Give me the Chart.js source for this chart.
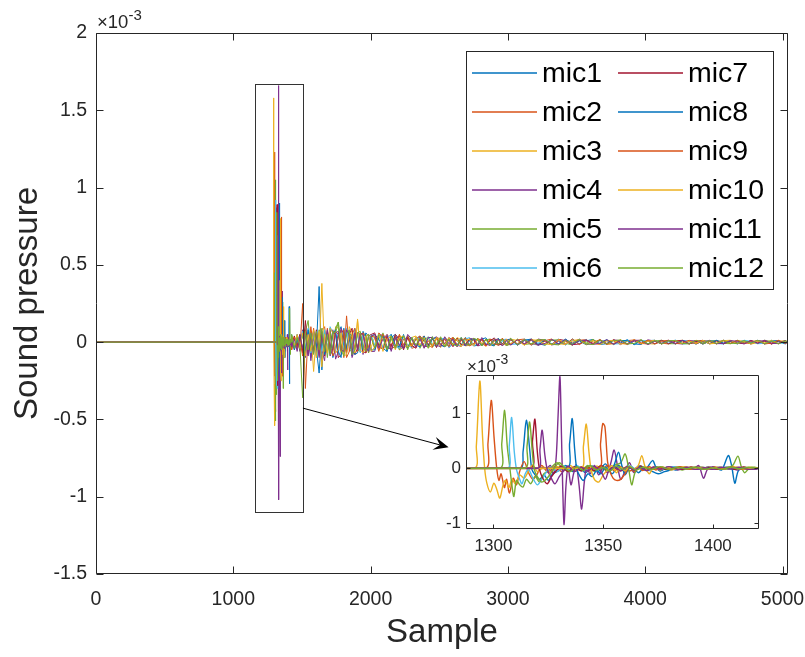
<!DOCTYPE html>
<html>
<head>
<meta charset="utf-8">
<script src="https://cdn.jsdelivr.net/npm/chart.js@4.4.1/dist/chart.umd.min.js"></script>
<style>
    html, body { margin: 0; padding: 0; background: #fff; }
    #wrap { position: relative; width: 805px; height: 657px; }
    #main { position: absolute; left: 0; top: 0; }
    #inset { position: absolute; left: 420px; top: 350px; }
</style>
</head>
<body>
<div id="wrap">
    <canvas id="main" width="805" height="657"></canvas>
    <canvas id="inset" width="370" height="220"></canvas>
</div>
<script>
// sound pressure in units of 1e-3
const micNames = ['mic1', 'mic2', 'mic3', 'mic4', 'mic5', 'mic6', 'mic7', 'mic8', 'mic9', 'mic10', 'mic11', 'mic12'];
const micColors = ['#0072BD', '#D95319', '#EDB120', '#7E2F8E', '#77AC30', '#4DBEEE', '#A2142F', '#0072BD', '#D95319', '#EDB120', '#7E2F8E', '#77AC30'];

const xTicks = [0, 1000, 2000, 3000, 4000, 5000];
const yTicks = [-1.5, -1, -0.5, 0, 0.5, 1, 1.5, 2];
const insetXTicks = [1300, 1350, 1400];
const insetYTicks = [-1, 0, 1];

// arrival of the direct pulse, [sample, value] pairs
const burst1 = [[0,0],[1312,0],[1313.5,0.3],[1315,0.87],[1316.5,0.35],[1317.5,-0.02],[1319,-0.12],[1321,-0.2],[1323,-0.12],[1325,-0.22],[1327,-0.1],[1330,-0.04],[1333,0.05],[1336,-0.06],[1339,0.02],[1342,-0.08],[1345,0.04],[1348,-0.05],[1351,0.08],[1354,-0.1],[1357,0.05],[1360,-0.06],[1363,0.03],[1366,-0.08],[1369,0.02],[1372,-0.05],[1375,-0.1],[1378,-0.06],[1381,-0.03],[1385,0.02],[1389,-0.02],[1393,0.03],[1397,-0.02],[1401,0.01],[1404,-0.03],[1407,0.23],[1408.5,0.05],[1410,-0.27],[1411.5,-0.05],[1414,0.02],[1417,-0.02],[1420,0.01]];
const burst2 = [[0,0],[1296,0],[1297.5,0.45],[1299,1.23],[1300.3,0.55],[1301.5,0],[1302.5,-0.22],[1303.5,-0.1],[1305,-0.35],[1306,-0.2],[1307.3,-0.45],[1309,-0.18],[1310.5,-0.3],[1312,-0.05],[1314,0.12],[1316,-0.08],[1318,-0.2],[1320,-0.1],[1322,0.05],[1325,-0.08],[1328,0.04],[1331,-0.06],[1334,0.02],[1337,-0.04],[1340,0.03],[1343,-0.05],[1346,0.02],[1349,-0.03],[1352,0.05],[1355,-0.04],[1358,0.03],[1362,-0.05],[1366,0.02],[1370,-0.03],[1374,0.02],[1378,-0.02],[1382,0.03],[1386,-0.01],[1390,0.02],[1394,-0.02],[1398,0.01],[1402,-0.02],[1406,0.02],[1410,-0.01],[1414,0.02],[1418,-0.02],[1421,0.01]];
const burst3 = [[0,0],[1291,0],[1292.2,0.4],[1293.8,1.58],[1295,0.6],[1296,0],[1297,-0.27],[1298.6,-0.43],[1300.2,-0.27],[1301.5,-0.38],[1302.9,-0.54],[1304.4,-0.3],[1305.5,-0.22],[1307,-0.35],[1308.5,-0.2],[1310,-0.28],[1312,-0.12],[1314,-0.18],[1316,-0.05],[1318,0.06],[1320,-0.06],[1323,0.02],[1326,-0.07],[1329,0.03],[1332,-0.02],[1335,0.05],[1338,-0.04],[1341,0.02],[1344,-0.05],[1347,0.04],[1350,-0.03],[1353,0.02],[1357,-0.04],[1361,0.03],[1365,-0.02],[1369,0.03],[1373,-0.02],[1377,0.02],[1381,-0.03],[1385,0.02],[1389,-0.01],[1393,0.03],[1397,-0.02],[1401,0.02],[1405,-0.02],[1409,0.03],[1413,-0.01],[1417,0.02],[1421,0]];
const burst4 = [[0,0],[1324,0],[1326,0.05],[1327.3,-0.1],[1328.5,0.15],[1329.4,0.9],[1330.3,1.66],[1331,0.6],[1331.6,-0.4],[1332.2,-1.02],[1333,-0.35],[1334,0.02],[1335.3,-0.3],[1336.5,-0.1],[1337.7,0.06],[1339,-0.3],[1340.2,-0.74],[1341.4,-0.25],[1342.5,0.03],[1344,-0.1],[1346,0.05],[1348,-0.12],[1350,0.02],[1352,-0.08],[1353.5,0.1],[1355,0.33],[1356.5,0.05],[1358,-0.2],[1360,-0.05],[1362,0.1],[1364,-0.08],[1367,0.04],[1370,-0.05],[1373,0.03],[1376,-0.04],[1380,0.02],[1384,-0.03],[1388,0.02],[1391,-0.02],[1393.5,0.05],[1395.7,-0.18],[1397.5,-0.02],[1400,0.03],[1403,-0.02],[1407,0.02],[1411,-0.03],[1415,0.01],[1419,-0.02],[1421,0]];
const burst5 = [[0,0],[1302.5,0],[1303.8,0.45],[1305.1,1.05],[1306.3,0.4],[1307.5,0],[1308.4,-0.3],[1309.3,-0.51],[1310.5,-0.22],[1312,-0.3],[1313.5,-0.34],[1315,-0.2],[1317,-0.28],[1319,-0.15],[1321,-0.25],[1323,-0.1],[1325,-0.05],[1327,0.04],[1329,0.1],[1331,0.02],[1334,-0.05],[1337,0.03],[1340,-0.04],[1343,0.05],[1346,-0.06],[1349,0.02],[1352,-0.04],[1355,0.05],[1358,0.1],[1360,0.26],[1361.5,0.02],[1363,-0.3],[1364.5,-0.08],[1367,0.04],[1370,-0.03],[1374,0.02],[1378,-0.02],[1382,0.02],[1386,-0.03],[1390,0.02],[1394,-0.01],[1398,0.02],[1402,-0.02],[1406,0.01],[1409,0.05],[1411.4,0.22],[1413,0.02],[1414.5,-0.08],[1416.5,0],[1419,0.02],[1421,0]];
const burst6 = [[0,0],[1306,0],[1307.2,0.4],[1308.3,0.92],[1309.5,0.3],[1310.5,-0.02],[1311.8,-0.18],[1313,-0.28],[1314.5,-0.1],[1316,-0.02],[1318,-0.18],[1320,-0.3],[1322,-0.2],[1324,-0.08],[1326,0.02],[1329,-0.06],[1332,0.04],[1335,-0.03],[1338,0.05],[1341,-0.04],[1344,0.02],[1347,-0.05],[1350,0.03],[1353,-0.02],[1356,0.04],[1359,-0.03],[1362,0.05],[1365,-0.02],[1368,0.03],[1371,-0.04],[1374,0.02],[1378,-0.02],[1382,0.03],[1386,-0.02],[1390,0.01],[1394,-0.02],[1398,0.02],[1402,-0.01],[1406,0.02],[1410,-0.02],[1414,0.01],[1418,-0.01],[1421,0.01]];
const burst7 = [[0,0],[1316.5,0],[1317.8,0.5],[1318.9,0.89],[1320,0.3],[1321,-0.02],[1322.5,-0.18],[1324.5,-0.28],[1326.5,-0.15],[1328.5,-0.05],[1331,0.04],[1334,-0.06],[1337,0.03],[1340,-0.05],[1343,0.02],[1346,-0.04],[1349,0.05],[1352,-0.03],[1355,0.02],[1358,-0.05],[1361,0.03],[1364,-0.02],[1367,0.04],[1370,-0.03],[1374,0.02],[1378,-0.02],[1382,0.01],[1386,-0.02],[1390,0.02],[1394,-0.01],[1398,0.02],[1402,-0.02],[1406,0.01],[1410,-0.02],[1414,0.02],[1418,-0.01],[1421,0]];
const burst8 = [[0,0],[1333,0],[1334.7,0.45],[1335.9,0.9],[1337,0.35],[1338,-0.02],[1339.5,-0.15],[1341,-0.22],[1343,-0.1],[1345,-0.15],[1347,-0.04],[1349,-0.1],[1351,0.02],[1353,-0.05],[1355,0.06],[1357,0.29],[1358.5,0.05],[1360,-0.12],[1362,0.02],[1364,-0.05],[1366,0.04],[1369,-0.03],[1372.5,0.14],[1374,0.02],[1376,-0.05],[1379,0.02],[1383,-0.03],[1387,0.02],[1391,-0.02],[1395,0.02],[1399,-0.01],[1403,0.02],[1407,-0.02],[1411,0.01],[1415,-0.02],[1419,0.01],[1421,0]];
const burst9 = [[0,0],[1347.5,0],[1348.8,0.45],[1349.8,0.81],[1350.8,0.75],[1352,0.12],[1353,-0.05],[1354.5,-0.18],[1356,-0.22],[1358,-0.2],[1360,-0.1],[1362,0.03],[1364,-0.06],[1366,0.02],[1368,-0.04],[1371,0.03],[1374,-0.03],[1377,0.02],[1381,-0.02],[1385,0.03],[1389,-0.02],[1393,0.01],[1397,-0.02],[1401,0.02],[1405,-0.01],[1409,0.02],[1413,-0.02],[1417,0.01],[1421,0]];
const burst10 = [[0,0],[1339.5,0],[1341,0.4],[1342.3,0.8],[1343.5,0.3],[1344.5,-0.02],[1346,-0.2],[1348,-0.25],[1350,-0.12],[1352,-0.03],[1354,0.05],[1356,-0.08],[1358,0.02],[1360,-0.05],[1362,0.04],[1364,-0.02],[1366,0.05],[1367.6,0.23],[1369,0.04],[1371,-0.1],[1373,0.02],[1376,-0.03],[1379,0.02],[1383,-0.02],[1387,0.03],[1391,-0.01],[1395,0.02],[1399,-0.02],[1403,0.02],[1407,-0.01],[1411,0.02],[1415,-0.02],[1419,0.01],[1421,0]];
const burst11 = [[0,0],[1320,0],[1321.2,0.35],[1322.2,0.69],[1323.4,0.25],[1324.5,-0.02],[1326,-0.15],[1328,-0.28],[1330,-0.15],[1332,-0.05],[1334,0.04],[1337,-0.06],[1340,0.02],[1343,-0.05],[1346,0.03],[1349,-0.06],[1351,-0.2],[1352.5,-0.05],[1355,0.02],[1358,-0.04],[1361,0.03],[1364,-0.03],[1367,0.02],[1370,-0.04],[1373,0.02],[1376,-0.02],[1380,0.03],[1384,-0.02],[1388,0.02],[1392,-0.02],[1396,0.01],[1400,-0.02],[1404,0.02],[1408,-0.01],[1412,0.02],[1416,-0.02],[1421,0]];
const burst12 = [[0,0],[1314,0],[1315.3,0.4],[1316.5,0.84],[1317.7,0.3],[1318.6,-0.02],[1320,-0.15],[1322,-0.25],[1324,-0.2],[1326,-0.1],[1328,0.02],[1330,0.1],[1332,0.03],[1335,-0.06],[1338,0.03],[1341,-0.04],[1344,0.05],[1347,-0.03],[1350,0.02],[1353,-0.05],[1356,0.04],[1359,-0.02],[1362,0.03],[1365,-0.03],[1368,0.02],[1372,-0.02],[1376,0.03],[1380,-0.02],[1384,0.02],[1388,-0.01],[1392,0.02],[1396,-0.02],[1400,0.01],[1404,-0.02],[1408,0.02],[1412,-0.01],[1416,0.02],[1421,0]];

// reverberation tail, one value per tailSamples entry
const tailSamples = [
    1425,1445,1465,1485,1505,1525,1545,1565,1585,1605,1625,1645,1665,1685,1705,1725,1745,1765,1785,1805,1825,1845,1865,1885,1905,1925,1945,1965,1985,2005,
    2030,2060,2090,2120,2150,2180,2210,2240,2270,2300,2330,2360,2390,2420,2450,2480,2510,2540,2570,2600,2630,2660,2690,2720,2750,2780,2810,2840,2870,2900,2930,2960,2990,3020,
    3070,3120,3170,3220,3270,3320,3370,3420,3470,3520,3570,3620,3670,3720,3770,3820,3870,3920,3970,4020,4070,4120,4170,4220,4270,4320,4370,4420,4470,4520,4570,4620,4670,4720,4770,4820,4870,4920,4970,5020,5040];

const tail1 = [0.03,-0.04,0.05,-0.02,0.06,-0.08,0.05,-0.1,0.07,-0.04,0.36,-0.18,0.06,-0.07,0.09,-0.1,-0.04,0.06,0.1,-0.03,0.07,0.02,-0.09,0.05,-0.04,-0.05,0.07,0.03,-0.06,0.04,
    0.05,0.02,-0.04,-0.06,0.03,0.05,-0.02,-0.04,0.04,-0.03,0.02,0.04,-0.03,-0.02,0.035,-0.03,0.01,0.03,-0.035,-0.01,0.025,-0.02,0.03,0.01,-0.025,-0.02,0.02,0.028,-0.015,-0.025,0.02,0.01,-0.025,0.015,
    -0.018,0.012,0.02,-0.01,-0.02,0.015,0.005,-0.018,0.02,-0.012,0.008,0.018,-0.015,-0.01,0.014,-0.006,0.016,-0.012,-0.015,0.01,0.012,-0.01,0.006,0.012,-0.012,-0.008,0.01,-0.012,0.008,0.01,-0.01,0.004,-0.01,0.012,-0.006,0.008,-0.012,0.006,0.01,-0.008,0.004];
const tail2 = [0.04,-0.03,0.02,-0.05,0.25,-0.3,0.06,-0.04,0.09,-0.06,-0.02,0.08,0.1,-0.05,0.07,-0.09,-0.05,0.04,0.08,-0.1,0.17,-0.06,-0.04,0.08,0.06,-0.04,0.06,-0.07,-0.04,0.03,
    -0.04,0.06,0.03,-0.05,-0.02,0.04,-0.05,0.02,0.03,-0.04,-0.03,0.02,0.04,-0.02,-0.035,0.03,0.02,-0.03,0.015,0.03,-0.02,-0.028,0.02,0.015,-0.02,0.025,-0.01,-0.025,0.02,0.01,-0.015,0.025,-0.02,-0.01,
    0.015,0.02,-0.012,-0.018,0.01,0.02,-0.015,0.005,-0.02,0.012,0.016,-0.01,-0.014,0.012,0.008,-0.016,0.01,0.014,-0.008,-0.012,0.01,-0.006,-0.012,0.008,0.012,-0.01,-0.004,0.01,-0.012,0.006,0.008,-0.01,0.012,-0.004,-0.01,0.008,0.004,-0.012,0.01,-0.006,-0.003];
const tail3 = [-0.03,0.04,-0.05,0.03,-0.06,0.08,-0.04,0.07,-0.19,0.05,-0.09,0.38,-0.07,0.05,-0.08,-0.06,0.1,0.09,-0.05,0.04,-0.07,0.1,0.06,-0.05,0.14,-0.06,0.04,0.05,-0.07,-0.03,
    0.03,-0.05,-0.03,0.05,0.02,-0.04,0.05,-0.02,-0.04,0.03,0.04,-0.03,-0.01,0.035,-0.02,0.02,-0.035,0.03,0.01,-0.02,0.03,0.015,-0.025,-0.02,0.025,-0.01,0.02,-0.028,0.015,-0.02,0.025,-0.01,-0.02,0.02,
    0.01,-0.02,0.016,0.008,-0.015,0.018,-0.01,-0.016,0.012,0.015,-0.018,0.006,0.012,-0.014,-0.008,0.016,-0.012,0.006,0.014,-0.01,-0.012,0.008,0.01,-0.012,0.006,-0.01,0.012,0.004,-0.01,-0.008,0.012,-0.006,0.008,0.01,-0.012,-0.004,0.01,-0.008,0.006,0.01,0.002];
const tail4 = [0.02,-0.05,0.04,-0.06,0.08,-0.1,0.06,-0.12,0.04,-0.08,0.06,-0.05,-0.12,0.07,-0.05,0.08,-0.11,-0.06,0.09,0.05,-0.04,0.07,-0.1,-0.04,0.06,0.05,-0.08,0.04,0.05,-0.06,
    -0.06,0.04,0.05,-0.03,-0.05,0.02,0.04,-0.04,0.03,0.02,-0.035,0.03,-0.025,-0.03,0.02,0.035,-0.015,-0.03,0.03,0.01,-0.028,0.02,-0.015,0.025,0.02,-0.025,-0.015,0.02,-0.02,0.028,-0.01,-0.02,0.015,0.02,
    -0.02,0.01,-0.015,0.02,0.012,-0.018,-0.01,0.016,-0.005,0.02,-0.014,-0.012,0.016,-0.008,0.014,0.01,-0.016,0.008,-0.012,0.015,0.006,-0.012,0.01,-0.008,-0.012,0.01,0.008,-0.012,0.006,-0.01,0.012,0.004,-0.01,0.008,-0.012,0.01,0.006,-0.01,-0.006,0.01,-0.004];
const tail5 = [-0.04,0.03,-0.02,0.05,-0.05,0.07,0.14,-0.06,0.05,-0.09,0.08,-0.05,0.07,-0.1,0.06,-0.05,0.09,0.13,-0.07,-0.05,0.06,0.08,-0.04,0.07,-0.05,-0.06,0.04,0.05,-0.07,0.04,
    0.04,-0.03,0.06,-0.05,0.02,0.03,-0.05,-0.03,0.04,-0.02,0.03,-0.04,0.02,0.03,-0.03,-0.01,0.035,-0.025,-0.02,0.03,0.01,-0.02,0.028,-0.02,-0.01,0.025,-0.02,0.015,0.02,-0.025,0.01,0.02,-0.02,-0.015,
    0.02,-0.015,-0.01,0.018,-0.02,0.012,0.016,-0.008,-0.018,0.014,-0.006,0.018,-0.012,0.01,-0.016,0.012,0.006,-0.014,0.016,-0.01,0.008,0.012,-0.01,-0.01,0.012,-0.008,0.01,-0.012,0.006,0.01,-0.008,-0.01,0.012,-0.006,0.008,-0.01,0.012,0.004,-0.01,0.008,-0.002];
const tail6 = [0.05,-0.02,0.03,-0.04,0.07,-0.04,0.09,-0.07,0.06,-0.1,0.04,-0.06,0.08,-0.05,0.1,0.06,-0.05,-0.08,0.06,-0.05,0.09,-0.04,-0.06,0.09,0.05,-0.07,0.05,-0.03,-0.06,0.05,
    -0.02,0.05,-0.04,0.03,0.05,-0.03,-0.04,0.04,-0.02,-0.035,0.03,0.02,-0.03,0.035,-0.01,-0.03,0.02,0.025,-0.03,0.02,-0.015,-0.025,0.02,0.03,-0.02,-0.015,0.025,-0.01,-0.02,0.025,-0.02,0.015,0.02,-0.015,
    -0.012,0.02,-0.018,-0.006,0.016,-0.012,0.02,-0.015,0.01,-0.01,0.018,-0.016,0.008,0.012,-0.012,-0.01,0.014,-0.016,0.012,0.008,-0.012,0.01,-0.006,0.012,-0.01,0.008,-0.012,0.01,0.01,-0.008,-0.012,0.01,-0.004,0.012,0.006,-0.01,-0.008,0.012,-0.01,-0.004,0.005];
const tail7 = [-0.02,0.04,-0.03,0.05,-0.07,0.14,-0.08,0.05,-0.06,0.08,-0.05,0.07,-0.09,0.06,-0.06,0.07,0.05,-0.1,-0.08,0.06,-0.07,0.05,0.09,-0.08,-0.04,0.05,-0.06,-0.07,0.04,0.05,
    0.06,-0.02,-0.05,0.04,-0.03,0.05,0.02,-0.05,0.03,-0.02,-0.04,0.035,0.01,-0.02,0.03,-0.035,0.025,-0.01,0.02,-0.03,0.025,-0.015,-0.02,0.02,0.015,-0.025,0.02,-0.02,0.01,0.025,-0.02,-0.01,0.02,-0.015,
    0.015,-0.01,0.02,-0.018,0.008,-0.014,0.018,0.01,-0.016,-0.012,0.015,-0.008,0.012,-0.014,0.016,-0.006,-0.012,0.014,-0.01,0.01,-0.01,0.012,-0.01,0.006,0.01,-0.012,0.004,0.012,-0.008,0.01,-0.012,0.008,-0.006,-0.01,0.012,-0.006,0.01,-0.012,0.006,-0.008,0.003];
const tail8 = [0.03,-0.05,0.02,-0.03,0.05,-0.06,0.08,-0.05,0.07,-0.04,-0.2,0.06,-0.08,0.05,-0.07,0.05,0.08,-0.06,-0.1,0.09,-0.05,0.06,0.04,-0.08,-0.07,0.04,-0.05,0.06,0.04,-0.05,
    -0.05,0.03,0.04,-0.06,0.05,-0.02,-0.03,0.05,-0.04,0.03,-0.02,-0.03,0.04,-0.03,0.02,0.03,-0.02,-0.03,0.025,-0.015,-0.02,0.03,-0.025,0.01,0.02,0.015,-0.025,0.02,-0.015,-0.02,0.025,-0.015,0.01,0.02,
    -0.016,0.014,0.012,-0.02,0.016,-0.014,-0.01,0.02,-0.012,0.008,-0.016,0.012,-0.01,0.016,-0.012,0.008,0.012,-0.016,0.01,-0.012,0.012,-0.008,0.008,-0.012,0.01,0.006,-0.012,0.008,-0.01,0.012,-0.006,0.01,-0.012,0.006,-0.008,0.012,-0.01,0.008,0.008,-0.012,0.004];
const tail9 = [-0.05,0.03,-0.04,0.02,-0.09,0.06,-0.07,0.1,-0.05,0.06,-0.08,0.05,-0.06,0.09,-0.04,-0.06,0.07,0.05,-0.06,0.08,-0.1,-0.06,0.05,0.09,-0.06,0.04,0.06,-0.05,-0.03,0.04,
    0.03,-0.06,0.05,0.02,-0.04,-0.03,0.05,-0.02,0.04,-0.03,0.02,0.04,-0.035,0.01,-0.03,0.03,-0.02,0.02,-0.03,0.03,-0.02,0.01,0.025,-0.025,-0.01,0.02,0.015,-0.025,0.02,-0.01,-0.02,0.025,-0.01,0.015,
    -0.01,0.018,-0.02,0.01,0.014,-0.018,0.01,-0.012,0.02,-0.016,0.01,-0.01,0.018,-0.012,-0.01,0.012,-0.014,0.016,-0.006,0.012,-0.012,0.006,0.012,-0.01,-0.006,0.012,-0.012,0.008,0.006,-0.012,0.01,-0.008,0.01,-0.01,0.004,0.01,-0.012,-0.006,0.012,-0.008,0.002];
const tail10 = [0.04,-0.02,0.05,-0.04,0.06,-0.09,0.05,-0.06,0.08,-0.1,0.07,-0.16,0.05,-0.07,0.09,0.06,-0.07,-0.05,0.06,-0.09,-0.08,0.06,0.05,-0.07,0.15,-0.05,-0.07,0.04,0.05,-0.06,
    -0.03,0.05,-0.06,0.02,0.04,-0.05,0.03,0.04,-0.03,-0.02,0.035,-0.02,0.03,-0.035,-0.02,0.03,0.01,-0.025,0.03,-0.02,0.02,-0.03,0.01,0.02,-0.025,0.02,-0.01,0.015,-0.025,0.02,0.015,-0.02,0.02,-0.01,
    0.018,-0.02,0.012,0.014,-0.012,-0.016,0.018,-0.01,0.006,0.016,-0.014,0.012,-0.016,0.008,0.012,-0.01,-0.012,0.016,-0.012,0.006,0.012,-0.012,0.008,0.01,-0.012,0.006,-0.008,0.012,-0.01,-0.006,0.01,0.012,-0.01,0.006,-0.012,0.008,-0.004,0.012,-0.01,0.006,-0.004];
const tail11 = [-0.03,0.02,-0.06,0.04,-0.04,0.05,-0.09,0.06,-0.07,0.05,-0.1,0.06,-0.05,0.08,-0.09,-0.04,0.06,0.07,-0.05,-0.06,0.08,0.05,-0.07,0.06,-0.05,0.06,0.05,-0.03,-0.06,0.04,
    0.05,-0.04,0.02,0.05,-0.06,0.03,-0.02,-0.04,0.05,0.02,-0.03,0.02,-0.04,0.03,0.03,-0.02,-0.03,0.035,-0.01,0.02,-0.03,0.025,-0.02,-0.015,0.025,-0.02,0.03,-0.015,-0.02,0.015,0.02,-0.025,0.01,-0.02,
    0.016,-0.012,0.014,-0.02,-0.008,0.018,-0.012,0.016,-0.018,0.01,0.012,-0.014,-0.006,0.016,-0.014,0.01,-0.01,0.012,0.012,-0.016,0.006,-0.01,0.012,-0.008,0.012,-0.012,0.01,-0.006,0.012,-0.01,-0.008,0.01,0.006,-0.012,0.01,-0.008,0.012,-0.006,-0.01,0.01,-0.003];
const tail12 = [0.05,-0.04,0.03,-0.02,-0.36,0.07,-0.05,0.06,-0.08,0.07,-0.05,0.09,-0.06,0.05,-0.08,0.07,0.06,0.13,-0.05,-0.09,0.06,0.07,-0.08,-0.05,0.06,0.07,-0.04,-0.06,0.05,0.03,
    -0.04,0.05,0.03,-0.05,0.04,-0.04,0.02,0.04,-0.05,0.03,-0.02,0.03,0.02,-0.04,0.035,-0.02,0.03,-0.03,0.02,-0.015,-0.025,0.03,-0.01,-0.02,0.025,0.015,-0.025,0.02,-0.02,0.01,-0.015,0.02,-0.015,0.025,
    -0.018,0.016,-0.012,0.014,0.016,-0.014,-0.018,0.012,-0.01,0.018,-0.01,-0.016,0.014,-0.012,0.01,0.014,-0.012,-0.008,0.014,-0.012,0.01,-0.012,0.01,0.01,-0.008,-0.012,0.012,-0.006,0.01,-0.01,0.012,-0.008,-0.008,0.01,-0.006,0.012,-0.01,0.008,-0.01,0.008,0.004];

const bursts = [burst1, burst2, burst3, burst4, burst5, burst6, burst7, burst8, burst9, burst10, burst11, burst12];
const tails = [tail1, tail2, tail3, tail4, tail5, tail6, tail7, tail8, tail9, tail10, tail11, tail12];

// zoom rectangle and arrow, in data units of the main axes
const zoomBoxX = [1155, 1507];
const zoomBoxY = [-1.098, 1.673];
const arrowFrom = [1507, -0.427];
const arrowTo = [2568, -0.68];

const FONT = '"Liberation Sans", Arial, Helvetica, sans-serif';
const AXIS = '#262626';

function serie(i) {
    const pts = bursts[i].map(p => ({ x: p[0], y: p[1] }));
    tailSamples.forEach((s, k) => {
        if (tails[i][k] !== undefined) pts.push({ x: s, y: tails[i][k] });
    });
    return pts;
}

function datasets(width, tension) {
    return micNames.map((name, i) => ({
        label: name,
        data: serie(i),
        borderColor: micColors[i],
        backgroundColor: micColors[i],
        borderWidth: width,
        pointRadius: 0,
        tension: tension,
        fill: false,
        order: micNames.length - 1 - i // last mic on top, as in matlab
    }));
}

// matlab style box with inward ticks on all four sides
function drawFrame(chart, len) {
    const { ctx, chartArea: a, scales: { x, y } } = chart;
    const L = Math.round(a.left) + 0.5, R = Math.round(a.right) - 0.5;
    const T = Math.round(a.top) + 0.5, B = Math.round(a.bottom) - 0.5;
    ctx.save();
    ctx.strokeStyle = AXIS;
    ctx.lineWidth = 1;
    ctx.beginPath();
    ctx.rect(L, T, R - L, B - T);
    x.ticks.forEach(t => {
        const px = Math.round(x.getPixelForValue(t.value)) + 0.5;
        ctx.moveTo(px, B); ctx.lineTo(px, B - len);
        ctx.moveTo(px, T); ctx.lineTo(px, T + len);
    });
    y.ticks.forEach(t => {
        const py = Math.round(y.getPixelForValue(t.value)) + 0.5;
        ctx.moveTo(L, py); ctx.lineTo(L + len, py);
        ctx.moveTo(R, py); ctx.lineTo(R - len, py);
    });
    ctx.stroke();
    ctx.restore();
}

function drawExponent(ctx, x, y, size) {
    ctx.save();
    ctx.fillStyle = AXIS;
    ctx.textBaseline = 'alphabetic';
    ctx.textAlign = 'left';
    ctx.font = size + 'px ' + FONT;
    ctx.fillText('\u00d710', x, y);
    const w = ctx.measureText('\u00d710').width;
    ctx.font = Math.round(size * 0.8) + 'px ' + FONT;
    ctx.fillText('-3', x + w, y - size * 0.45);
    ctx.restore();
}

const mainDecor = {
    id: 'mainDecor',
    afterDatasetsDraw(chart) {
        drawFrame(chart, 7);
        const { ctx, scales: { x, y } } = chart;
        drawExponent(ctx, 97, 28, 18.5);

        // zoom rectangle
        ctx.save();
        ctx.strokeStyle = '#333';
        ctx.lineWidth = 1;
        const x0 = Math.round(x.getPixelForValue(zoomBoxX[0])) + 0.5;
        const x1 = Math.round(x.getPixelForValue(zoomBoxX[1])) + 0.5;
        const y0 = Math.round(y.getPixelForValue(zoomBoxY[1])) + 0.5;
        const y1 = Math.round(y.getPixelForValue(zoomBoxY[0])) + 0.5;
        ctx.strokeRect(x0, y0, x1 - x0, y1 - y0);

        // arrow to the inset
        const ax = x.getPixelForValue(arrowFrom[0]), ay = y.getPixelForValue(arrowFrom[1]);
        const bx = x.getPixelForValue(arrowTo[0]), by = y.getPixelForValue(arrowTo[1]);
        const ang = Math.atan2(by - ay, bx - ax);
        const len = 15, half = 6.5;
        const ux = Math.cos(ang), uy = Math.sin(ang);
        ctx.strokeStyle = '#000';
        ctx.beginPath();
        ctx.moveTo(ax, ay);
        ctx.lineTo(bx - ux * len * 0.6, by - uy * len * 0.6);
        ctx.stroke();
        ctx.fillStyle = '#000';
        ctx.beginPath();
        ctx.moveTo(bx, by);
        ctx.lineTo(bx - ux * len - uy * half, by - uy * len + ux * half);
        ctx.lineTo(bx - ux * len * 0.6, by - uy * len * 0.6);
        ctx.lineTo(bx - ux * len + uy * half, by - uy * len - ux * half);
        ctx.closePath();
        ctx.fill();
        ctx.restore();

        // legend, two columns filled top to bottom
        ctx.save();
        ctx.fillStyle = '#fff';
        ctx.fillRect(466, 51, 307, 238);
        ctx.strokeStyle = AXIS;
        ctx.lineWidth = 1;
        ctx.strokeRect(466.5, 51.5, 307, 238);
        ctx.font = '28.5px ' + FONT;
        ctx.textBaseline = 'middle';
        ctx.textAlign = 'left';
        micNames.forEach((name, i) => {
            const col = Math.floor(i / 6), row = i % 6;
            const lx = col === 0 ? 472 : 618;
            const ly = Math.round(73 + row * 39);
            ctx.strokeStyle = micColors[i];
            ctx.lineWidth = 1.6;
            ctx.beginPath();
            ctx.moveTo(lx, ly);
            ctx.lineTo(lx + 65, ly);
            ctx.stroke();
            ctx.fillStyle = '#000';
            ctx.fillText(name, lx + 70, ly + 1);
        });
        ctx.restore();
    }
};

const insetDecor = {
    id: 'insetDecor',
    beforeDatasetsDraw(chart) {
        const { ctx, chartArea: a } = chart;
        ctx.save();
        ctx.fillStyle = '#fff';
        ctx.fillRect(a.left, a.top, a.width, a.height);
        ctx.restore();
    },
    afterDatasetsDraw(chart) {
        drawFrame(chart, 4);
        drawExponent(chart.ctx, 47, 22, 17);
    }
};

function axisOpts(min, max, ticks, size, pad, fitKey, fitVal, title) {
    const o = {
        type: 'linear',
        min: min,
        max: max,
        grid: { display: false, drawTicks: false },
        border: { display: false },
        afterBuildTicks: s => { s.ticks = ticks.map(v => ({ value: v })); },
        ticks: {
            font: { family: FONT, size: size },
            color: AXIS,
            padding: pad,
            maxRotation: 0,
            autoSkip: false,
            callback: v => String(v)
        },
        afterFit: s => {
            s[fitKey] = fitVal;
            // let labels hang over the plot edges like matlab does
            s.paddingLeft = 0; s.paddingRight = 0;
            s.paddingTop = 0; s.paddingBottom = 0;
        }
    };
    if (title) o.title = title;
    return o;
}

new Chart(document.getElementById('main').getContext('2d'), {
    type: 'line',
    data: { datasets: datasets(1, 0) },
    options: {
        responsive: false,
        animation: false,
        devicePixelRatio: 1,
        events: [],
        layout: { padding: { top: 33, right: 17, left: 0, bottom: 0 } },
        plugins: { legend: { display: false }, tooltip: { enabled: false } },
        scales: {
            x: axisOpts(0, 5040, xTicks, 19.5, 14, 'height', 83, {
                display: true, text: 'Sample', color: AXIS,
                font: { family: FONT, size: 33 }, padding: { top: 0, bottom: 4 }
            }),
            y: axisOpts(-1.5, 2, yTicks, 19.5, 9, 'width', 96, {
                display: true, text: 'Sound pressure', color: AXIS,
                font: { family: FONT, size: 33 }, padding: { top: 8, bottom: 0 }
            })
        }
    },
    plugins: [mainDecor]
});

new Chart(document.getElementById('inset').getContext('2d'), {
    type: 'line',
    data: { datasets: datasets(1.4, 0.3) },
    options: {
        responsive: false,
        animation: false,
        devicePixelRatio: 1,
        events: [],
        layout: { padding: { top: 25, right: 31, left: 0, bottom: 0 } },
        plugins: { legend: { display: false }, tooltip: { enabled: false } },
        scales: {
            x: axisOpts(1287.5, 1421, insetXTicks, 17, 7, 'height', 41),
            y: axisOpts(-1.1, 1.69, insetYTicks, 17, 5, 'width', 46)
        }
    },
    plugins: [insetDecor]
});
</script>
</body>
</html>
